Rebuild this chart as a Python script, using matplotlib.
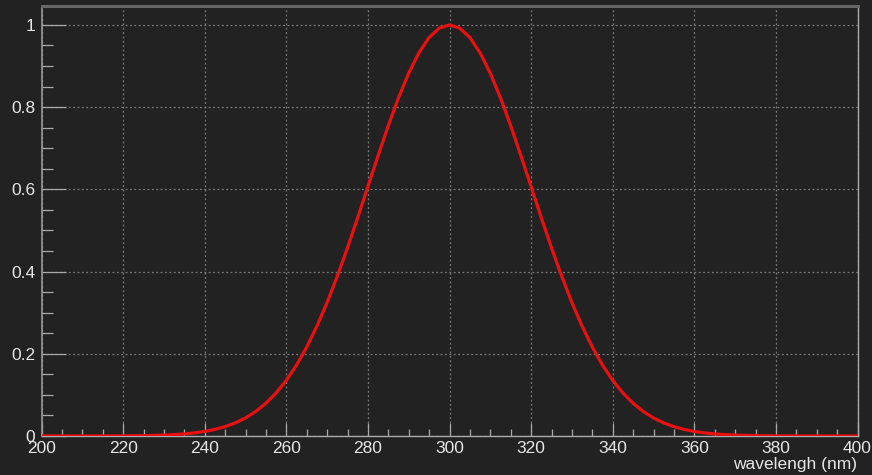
import matplotlib.pyplot as plt
import numpy as np
from matplotlib.ticker import MultipleLocator

plt.rcParams['font.family'] = ['Liberation Sans', 'DejaVu Sans']

# wavelength samples (nm), every 2.5 nm
wavelength = np.arange(200, 400.1, 2.5)
# intensity
intensity = [
    0, 0, 0, 0, 0, 0, 0.0001, 0.0002, 0.0003, 0.0005,
    0.0009, 0.0014, 0.0022, 0.0034, 0.0051, 0.0076, 0.0111, 0.0160, 0.0228, 0.0319,
    0.0439, 0.0596, 0.0796, 0.1046, 0.1353, 0.1724, 0.2163, 0.2671, 0.3247, 0.3886,
    0.4578, 0.5311, 0.6065, 0.6820, 0.7548, 0.8226, 0.8825, 0.9321, 0.9692, 0.9922,
    1.0,
    0.9922, 0.9692, 0.9321, 0.8825, 0.8226, 0.7548, 0.6820, 0.6065, 0.5311, 0.4578,
    0.3886, 0.3247, 0.2671, 0.2163, 0.1724, 0.1353, 0.1046, 0.0796, 0.0596, 0.0439,
    0.0319, 0.0228, 0.0160, 0.0111, 0.0076, 0.0051, 0.0034, 0.0022, 0.0014, 0.0009,
    0.0005, 0.0003, 0.0002, 0.0001, 0, 0, 0, 0, 0, 0,
]
ytick_labels = ['0', '0.2', '0.4', '0.6', '0.8', '1']

bg = '#222222'
txt = '#e6e6e6'

fig = plt.figure(figsize=(8.72, 4.75), dpi=100, facecolor=bg)
ax = fig.add_axes([41.5 / 872, 1 - 436 / 475, 816 / 872, 430 / 475])
ax.set_facecolor(bg)

ax.plot(wavelength, intensity, color='#e81010', linewidth=2.3, zorder=3)

ax.set_xlim(200, 400)
ax.set_ylim(0, 1.046)

ax.xaxis.set_major_locator(MultipleLocator(20))
ax.xaxis.set_minor_locator(MultipleLocator(5))
ax.yaxis.set_minor_locator(MultipleLocator(0.05))
ax.set_yticks(np.arange(0, 1.01, 0.2))
ax.set_yticklabels(ytick_labels)

ax.grid(True, which='major', color='#7a7a7a', linestyle=(0, (1.5, 2)), linewidth=0.9)

ax.tick_params(axis='x', which='major', direction='in', length=9.5, width=0.9,
               color='#aaaaaa', labelcolor=txt, labelsize=12.5, pad=3.5)
ax.tick_params(axis='x', which='minor', direction='in', length=5, width=0.9,
               color='#aaaaaa')
ax.tick_params(axis='y', which='major', direction='in', length=17, width=0.9,
               color='#aaaaaa', labelcolor=txt, labelsize=12.5, pad=4.5)
ax.tick_params(axis='y', which='minor', direction='in', length=8, width=0.9,
               color='#aaaaaa')

ax.spines['top'].set_color('#666666')
ax.spines['top'].set_linewidth(2.2)
ax.spines['left'].set_color('#999999')
ax.spines['left'].set_linewidth(1.2)
ax.spines['right'].set_color('#aaaaaa')
ax.spines['right'].set_linewidth(1.0)
ax.spines['bottom'].set_color('#aaaaaa')
ax.spines['bottom'].set_linewidth(1.0)

ax.set_xlabel('wavelengh (nm)', color=txt, fontsize=12.5, loc='right', labelpad=1)

fig.savefig('out.png', dpi=100, facecolor=bg)
